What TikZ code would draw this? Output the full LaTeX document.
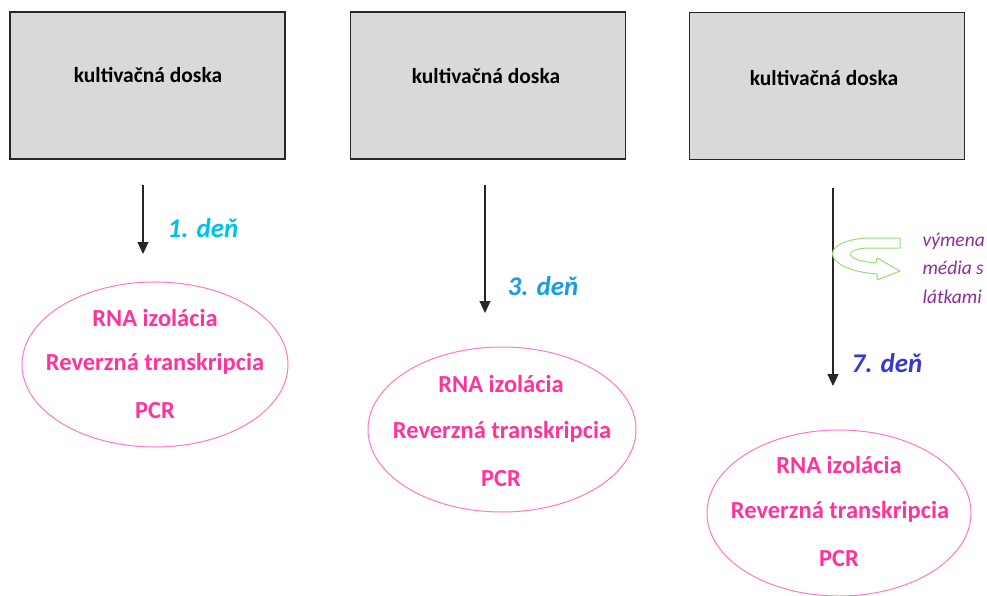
\documentclass[tikz,border=0pt]{standalone}
\usepackage{fontspec}
\setmainfont{Carlito}
\usetikzlibrary{arrows.meta,shapes.geometric}
\definecolor{boxgray}{HTML}{D9D9D9}
\definecolor{txtpink}{HTML}{FF3399}
\definecolor{ellpink}{HTML}{FF77C8}
\definecolor{dayone}{HTML}{00C0F0}
\definecolor{daythree}{HTML}{1A9BE8}
\definecolor{dayseven}{HTML}{3838D0}
\definecolor{purp}{HTML}{8E2C98}
\definecolor{grn}{HTML}{99DD77}
\tikzset{
  platebox/.style={draw=black!85,line width=1.1pt,fill=boxgray,minimum width=275pt,minimum height=147pt,inner sep=0pt},
  platetxt/.style={font=\fontsize{21.5}{24}\selectfont\bfseries},
  procell/.style={draw=ellpink,line width=1pt,ellipse,inner sep=0pt},
  dayarrow/.style={draw=black!85,line width=1.1pt,-{Triangle[length=12pt,width=11pt]}},
  daylbl/.style={font=\fontsize{27}{30}\selectfont\bfseries\itshape,anchor=center},
  ptxt/.style={text=txtpink,font=\fontsize{24.5}{28}\selectfont\bfseries,anchor=center},
  mtxt/.style={text=purp,font=\fontsize{19.5}{22}\selectfont\itshape,anchor=west}
}
\begin{document}
\begin{tikzpicture}[x=1pt,y=-1pt]
\useasboundingbox (0,0) rectangle (987,596);
% plates
\node[platebox] (b1) at (147.5,85.5) {};
\node[platebox] (b2) at (488,85.5) {};
\node[platebox] (b3) at (827,86) {};
\node[platetxt] (t1) at (148,75) {kultivačná doska};
\node[platetxt] (t2) at (486,76) {kultivačná doska};
\node[platetxt] (t3) at (824,78) {kultivačná doska};
% ellipses
\node[procell,minimum width=266pt,minimum height=165pt] (e1) at (155,364.5) {};
\node[procell,minimum width=268pt,minimum height=165pt] (e2) at (502,429.5) {};
\node[procell,minimum width=264pt,minimum height=166pt] (e3) at (839,513) {};
\node[ptxt] (e1a) at (155,318) {RNA izolácia};
\node[ptxt] (e1b) at (155,364) {Reverzná transkripcia};
\node[ptxt] (e1c) at (155,411) {PCR};
\node[ptxt] (e2a) at (501,384) {RNA izolácia};
\node[ptxt] (e2b) at (502,432) {Reverzná transkripcia};
\node[ptxt] (e2c) at (501,479) {PCR};
\node[ptxt] (e3a) at (839,465) {RNA izolácia};
\node[ptxt] (e3b) at (840,512) {Reverzná transkripcia};
\node[ptxt] (e3c) at (839,559) {PCR};
% arrows
\coordinate (a1s) at (143,185); \coordinate (a1e) at (143,254);
\coordinate (a2s) at (485,185); \coordinate (a2e) at (485,313);
\coordinate (a3s) at (833,188); \coordinate (a3e) at (833,386);
\draw[dayarrow] (a1s) -- (a1e);
\draw[dayarrow] (a2s) -- (a2e);
\draw[dayarrow] (a3s) -- (a3e);
\node[daylbl,text=dayone] (d1) at (203,228) {1. deň};
\node[daylbl,text=daythree] (d2) at (543,286) {3. deň};
\node[daylbl,text=dayseven] (d3) at (887,363) {7. deň};
% green exchange arrow
\draw[grn,line width=1pt,fill=white,line join=round]
  (900,238) -- (900,248) -- (868,248)
  .. controls (844,249) and (842,260) .. (876,263)
  -- (877,258) -- (900,271) -- (877,280) -- (877,274)
  .. controls (824,270) and (816,242) .. (866,238) -- cycle;
\node[mtxt] (m1) at (919,241) {výmena};
\node[mtxt] (m2) at (919,268) {média s};
\node[mtxt] (m3) at (919,297) {látkami};
\end{tikzpicture}
\end{document}
